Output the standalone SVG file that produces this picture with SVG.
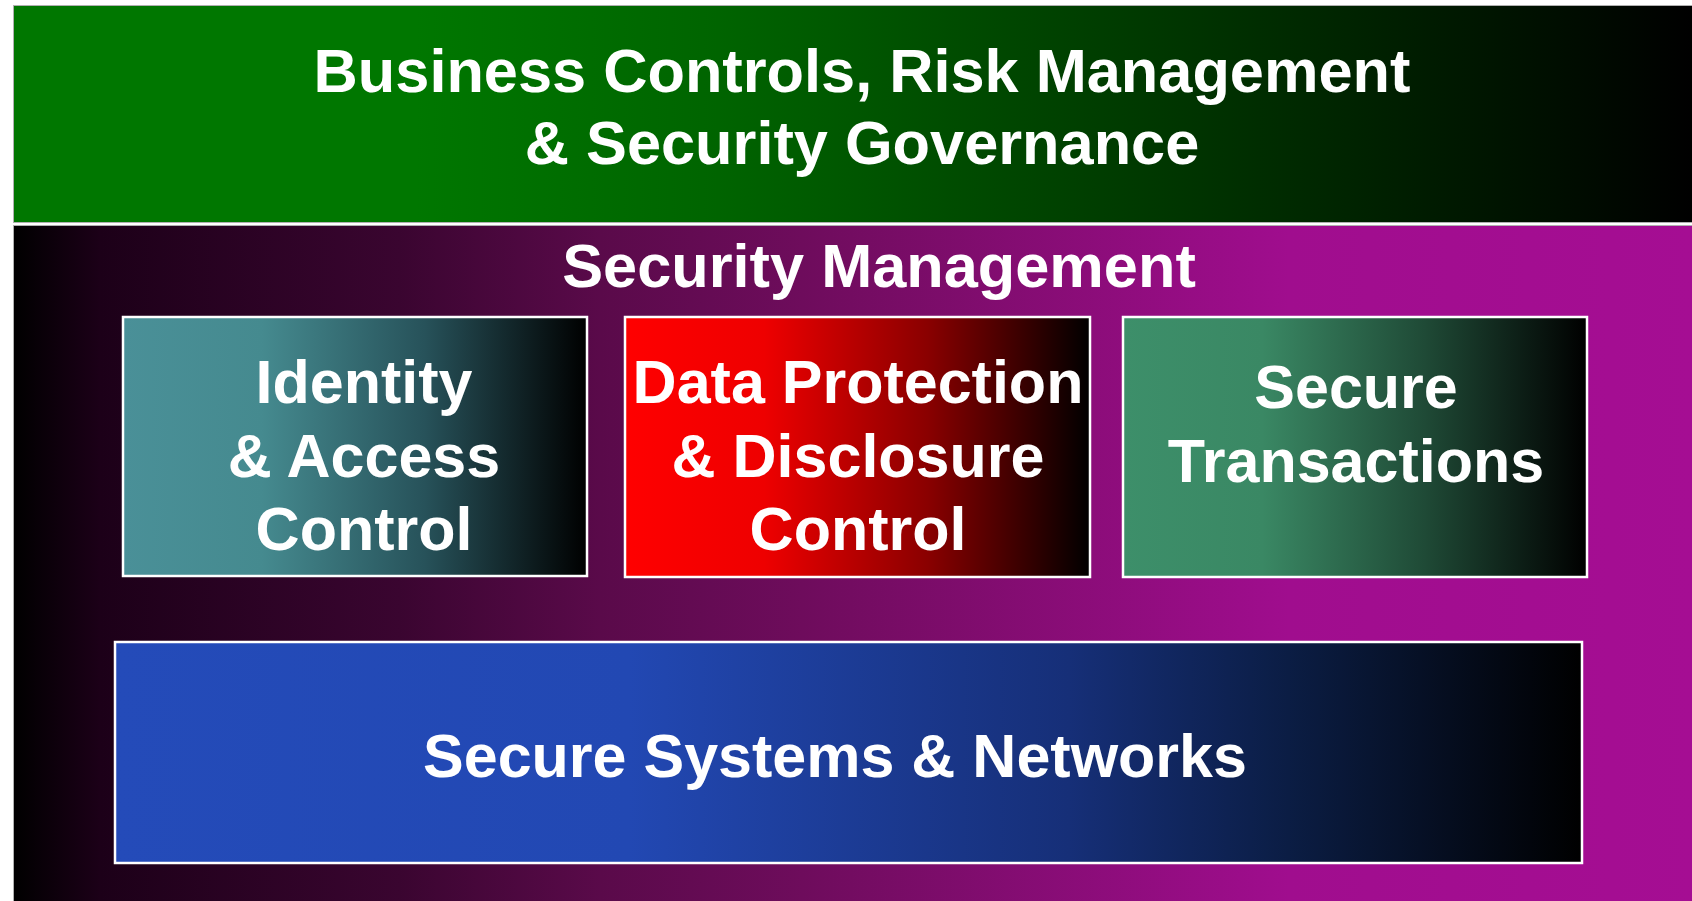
<svg xmlns="http://www.w3.org/2000/svg" width="1692" height="901" viewBox="0 0 1692 901">
  <defs>
    <linearGradient id="gGov" x1="13" y1="0" x2="1692" y2="0" gradientUnits="userSpaceOnUse">
      <stop offset="0" stop-color="#007700"/>
      <stop offset="0.24" stop-color="#007700"/>
      <stop offset="0.42" stop-color="#006400"/>
      <stop offset="0.76" stop-color="#002a00"/>
      <stop offset="1" stop-color="#000000"/>
    </linearGradient>
    <linearGradient id="gMgmt" x1="13" y1="0" x2="1692" y2="0" gradientUnits="userSpaceOnUse">
      <stop offset="0" stop-color="#000000"/>
      <stop offset="0.052" stop-color="#1c0018"/>
      <stop offset="0.23" stop-color="#3a0530"/>
      <stop offset="0.35" stop-color="#5a0a4a"/>
      <stop offset="0.47" stop-color="#6e0c5c"/>
      <stop offset="0.76" stop-color="#a00d8e"/>
      <stop offset="1" stop-color="#a50d93"/>
    </linearGradient>
    <linearGradient id="gTeal" x1="0" y1="0" x2="1" y2="0">
      <stop offset="0" stop-color="#4a9098"/>
      <stop offset="0.3" stop-color="#458a8f"/>
      <stop offset="0.65" stop-color="#27525a"/>
      <stop offset="1" stop-color="#000000"/>
    </linearGradient>
    <linearGradient id="gRed" x1="0" y1="0" x2="1" y2="0">
      <stop offset="0" stop-color="#ff0000"/>
      <stop offset="0.3" stop-color="#ee0000"/>
      <stop offset="0.65" stop-color="#8a0000"/>
      <stop offset="1" stop-color="#000000"/>
    </linearGradient>
    <linearGradient id="gGreen" x1="0" y1="0" x2="1" y2="0">
      <stop offset="0" stop-color="#3d8f6a"/>
      <stop offset="0.3" stop-color="#3a8864"/>
      <stop offset="0.65" stop-color="#1f4a36"/>
      <stop offset="1" stop-color="#000000"/>
    </linearGradient>
    <linearGradient id="gBlue" x1="0" y1="0" x2="1" y2="0">
      <stop offset="0" stop-color="#244bb9"/>
      <stop offset="0.35" stop-color="#2248b3"/>
      <stop offset="0.65" stop-color="#162f78"/>
      <stop offset="0.8" stop-color="#0b1d44"/>
      <stop offset="1" stop-color="#000000"/>
    </linearGradient>
  </defs>
  <style>
    .band { stroke: #b0b0b0; stroke-width: 1; }
    .box { stroke: #ffffff; stroke-width: 2.5; }
    .lbl { font-family: "Liberation Sans", Arial, sans-serif; font-weight: bold; fill: #ffffff; text-anchor: middle; font-size: 61.3px; }
    .blbl { font-family: "Liberation Sans", Arial, sans-serif; font-weight: bold; fill: #ffffff; text-anchor: middle; font-size: 61px; }
  </style>
  <rect x="0" y="0" width="1692" height="901" fill="#ffffff"/>
  <g id="governance">
    <rect class="band" x="13.5" y="5.5" width="1690" height="217" fill="url(#gGov)"/>
    <text class="lbl" x="862" y="92">Business Controls, Risk Management</text>
    <text class="lbl" x="862" y="164">&amp; Security Governance</text>
  </g>
  <g id="security-management">
    <rect class="band" x="13.5" y="225.5" width="1690" height="690" fill="url(#gMgmt)"/>
    <text class="lbl" x="879" y="287">Security Management</text>
  </g>
  <g id="identity">
    <rect class="box" x="123" y="317" width="464" height="259" fill="url(#gTeal)"/>
    <text class="blbl" x="364" y="403">Identity</text>
    <text class="blbl" x="364" y="477">&amp; Access</text>
    <text class="blbl" x="364" y="550">Control</text>
  </g>
  <g id="data-protection">
    <rect class="box" x="625" y="317" width="465" height="260" fill="url(#gRed)"/>
    <text class="blbl" x="858" y="403">Data Protection</text>
    <text class="blbl" x="858" y="477">&amp; Disclosure</text>
    <text class="blbl" x="858" y="550">Control</text>
  </g>
  <g id="secure-transactions">
    <rect class="box" x="1123" y="317" width="464" height="260" fill="url(#gGreen)"/>
    <text class="blbl" x="1356" y="408">Secure</text>
    <text class="blbl" x="1356" y="482">Transactions</text>
  </g>
  <g id="secure-systems">
    <rect class="box" x="115" y="642" width="1467" height="221" fill="url(#gBlue)"/>
    <text class="blbl" x="835" y="777">Secure Systems &amp; Networks</text>
  </g>
  <g id="connectors"/>
</svg>
